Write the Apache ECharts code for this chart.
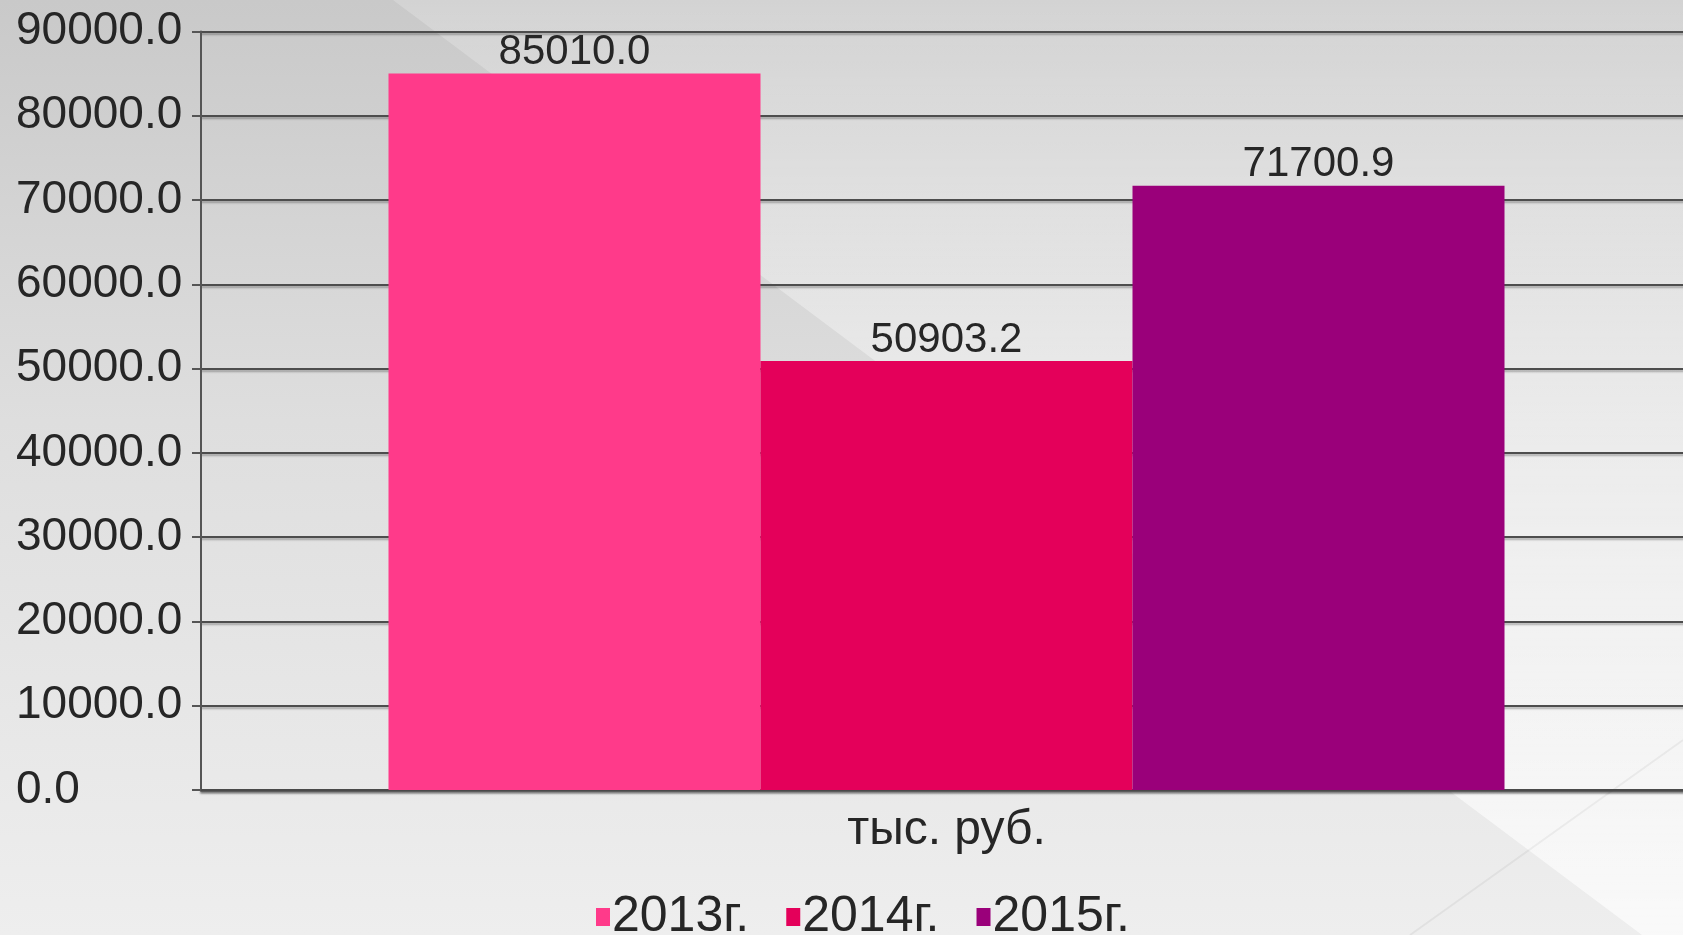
<!DOCTYPE html>
<html>
<head>
<meta charset="utf-8">
<script src="https://cdn.jsdelivr.net/npm/echarts@6/dist/echarts.min.js"></script>
<style>
  html, body { margin: 0; padding: 0; }
  #chart {
    width: 1683px;
    height: 935px;
    background: linear-gradient(to bottom, #c9c9c9 0%, #dedede 45%, #eeeeee 100%);
  }
</style>
</head>
<body>
<div id="chart"></div>
<script>
// данные диаграммы
var categories = ['тыс. руб.']
var seriesNames = ['2013г.', '2014г.', '2015г.']
var values2013 = [85010.0]
var values2014 = [50903.2]
var values2015 = [71700.9]
var colors = ['#ff3a8a', '#e4005a', '#9a007a']

var myChart = echarts.init(document.getElementById('chart'))

var textColor = '#262626'
var fontFamily = 'Liberation Sans, Arial, sans-serif'

function makeSeries (name, data, color) {
  return {
    name: name,
    type: 'bar',
    data: data,
    barGap: '0%',
    barWidth: 372,
    itemStyle: { color: color },
    label: {
      show: true,
      position: 'top',
      distance: 0,
      fontSize: 42,
      fontFamily: fontFamily,
      color: textColor,
      formatter: function (p) {
        return p.value.toFixed(1)
      }
    }
  }
}

myChart.setOption({
  backgroundColor: 'transparent',
  animation: false,
  color: colors,
  graphic: [
    {
      type: 'polygon',
      z: -10,
      silent: true,
      shape: { points: [[393, 0], [1683, 0], [1683, 935], [1642, 935]] },
      style: {
        fill: new echarts.graphic.LinearGradient(0, 0, 0, 1, [
          { offset: 0, color: 'rgba(255,255,255,0.2)' },
          { offset: 1, color: 'rgba(255,255,255,0.65)' }
        ])
      }
    },
    {
      type: 'line',
      z: -10,
      silent: true,
      shape: { x1: 1410, y1: 935, x2: 1683, y2: 740 },
      style: { stroke: 'rgba(0,0,0,0.05)', lineWidth: 2 }
    }
  ],
  grid: {
    left: 201,
    right: -9,
    top: 31.5,
    bottom: 145,
    outerBoundsMode: 'none'
  },
  legend: {
    left: 591,
    top: 887,
    icon: 'rect',
    itemWidth: 14,
    itemHeight: 18,
    itemGap: 37,
    data: seriesNames,
    textStyle: {
      fontSize: 50,
      fontFamily: fontFamily,
      color: textColor,
      padding: [0, 0, 0, -3]
    }
  },
  xAxis: {
    type: 'category',
    data: categories,
    axisLine: {
      lineStyle: {
        color: '#4a4a4a',
        width: 2.5,
        shadowColor: 'rgba(0,0,0,0.35)',
        shadowBlur: 2,
        shadowOffsetY: 2
      }
    },
    axisTick: { show: false },
    axisLabel: {
      margin: 17,
      fontSize: 48,
      fontFamily: fontFamily,
      color: textColor
    }
  },
  yAxis: {
    type: 'value',
    min: 0,
    max: 90000,
    interval: 10000,
    axisLine: {
      show: true,
      lineStyle: { color: '#555555', width: 2 }
    },
    axisTick: {
      show: true,
      length: 9,
      lineStyle: { color: '#555555', width: 2 }
    },
    splitLine: {
      lineStyle: {
        color: '#4d4d4d',
        width: 2,
        shadowColor: 'rgba(0,0,0,0.3)',
        shadowBlur: 2,
        shadowOffsetY: 2
      }
    },
    axisLabel: {
      align: 'left',
      margin: 185,
      fontSize: 46,
      fontFamily: fontFamily,
      color: textColor,
      padding: [6, 0, 0, 0],
      formatter: function (v) {
        return v.toFixed(1)
      }
    }
  },
  series: [
    makeSeries(seriesNames[0], values2013, colors[0]),
    makeSeries(seriesNames[1], values2014, colors[1]),
    makeSeries(seriesNames[2], values2015, colors[2])
  ]
})
</script>
</body>
</html>
